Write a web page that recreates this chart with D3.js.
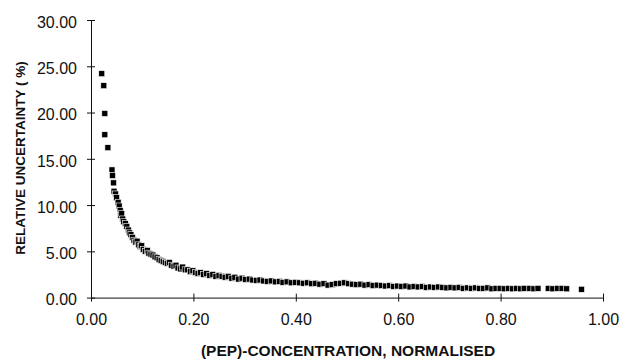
<!DOCTYPE html>
<html>
<head>
<meta charset="utf-8">
<script src="https://cdn.jsdelivr.net/npm/d3@7"></script>
<style>
  body { margin: 0; background: #fff; }
  .axis text { font-family: "Liberation Sans", Arial, sans-serif; font-size: 16px; fill: #111; }
  .axis path, .axis line { stroke: #111; stroke-width: 1; }
  .title { font-family: "Liberation Sans", Arial, sans-serif; font-weight: bold; fill: #111; }
</style>
</head>
<body>
<div id="chart"></div>
<script>
// normalised PEP concentration (x) and relative uncertainty in % (y)
const concentration = [
  0.021, 0.025, 0.027, 0.027, 0.033, 0.041, 0.042, 0.044, 0.045, 0.048,
  0.050, 0.053, 0.055, 0.057, 0.058, 0.060, 0.062, 0.064, 0.067, 0.070,
  0.073, 0.075, 0.078, 0.081, 0.084, 0.087, 0.090, 0.093, 0.096, 0.099,
  0.102, 0.106, 0.110, 0.113, 0.117, 0.121, 0.125, 0.129, 0.133, 0.137,
  0.141, 0.145, 0.149, 0.153, 0.157, 0.162, 0.166, 0.170, 0.175, 0.179,
  0.184, 0.189, 0.194, 0.199, 0.204, 0.209, 0.214, 0.220, 0.226, 0.232,
  0.238, 0.244, 0.250, 0.256, 0.262, 0.268, 0.275, 0.281, 0.288, 0.295,
  0.302, 0.309, 0.316, 0.323, 0.330, 0.337, 0.345, 0.352, 0.360, 0.368,
  0.375, 0.383, 0.391, 0.399, 0.407, 0.415, 0.423, 0.431, 0.439, 0.447,
  0.455, 0.463, 0.471, 0.479, 0.487, 0.495, 0.503, 0.511, 0.519, 0.527,
  0.535, 0.543, 0.551, 0.559, 0.567, 0.575, 0.583, 0.591, 0.599, 0.607,
  0.615, 0.623, 0.631, 0.639, 0.647, 0.655, 0.663, 0.671, 0.679, 0.687,
  0.695, 0.703, 0.711, 0.719, 0.727, 0.735, 0.743, 0.751, 0.759, 0.767,
  0.775, 0.783, 0.791, 0.799, 0.807, 0.815, 0.823, 0.831, 0.839, 0.846,
  0.857, 0.865, 0.873, 0.893, 0.902, 0.911, 0.920, 0.929, 0.958
];
const uncertainty = [
  24.2, 22.9, 19.9, 17.6, 16.2, 13.8, 13.2, 12.4, 11.5, 11.2,
  10.8, 10.3, 9.9, 9.4, 8.9, 9.1, 8.5, 8.2, 8.0, 7.7,
  7.3, 7.0, 6.8, 6.5, 6.2, 6.0, 6.1, 5.7, 5.5, 5.6,
  5.2, 5.0, 5.1, 4.8, 4.7, 4.6, 4.4, 4.3, 4.1, 4.0,
  3.9, 3.8, 3.7, 3.8, 3.5, 3.4, 3.5, 3.2, 3.1, 3.3,
  3.0, 3.0, 2.8, 2.9, 2.7, 2.6, 2.7, 2.5, 2.6, 2.4,
  2.5, 2.3, 2.4, 2.3, 2.2, 2.3, 2.1, 2.2, 2.0, 2.1,
  1.95, 2.0, 1.9, 1.85, 1.9, 1.8, 1.75, 1.8, 1.7, 1.75,
  1.65, 1.7, 1.6, 1.65, 1.6, 1.55, 1.6, 1.5, 1.55, 1.45,
  1.5, 1.35, 1.4, 1.5, 1.55, 1.6, 1.5, 1.45, 1.4, 1.45,
  1.35, 1.4, 1.3, 1.35, 1.3, 1.25, 1.3, 1.2, 1.25, 1.2,
  1.25, 1.15, 1.2, 1.15, 1.2, 1.1, 1.15, 1.1, 1.15, 1.1,
  1.05, 1.1, 1.05, 1.1, 1.0, 1.05, 1.0, 1.05, 1.0, 1.0,
  1.05, 0.95, 1.0, 1.0, 0.95, 1.0, 0.95, 1.0, 0.95, 1.0,
  1.0, 0.95, 1.0, 1.0, 0.95, 1.0, 1.0, 0.95, 0.9
];
const xTicks = [0, 0.2, 0.4, 0.6, 0.8, 1.0];
const yTicks = [0, 5, 10, 15, 20, 25, 30];

const width = 621, height = 360;
const margin = {top: 20, right: 18, bottom: 62, left: 91};

const svg = d3.select('#chart').append('svg')
  .attr('width', width)
  .attr('height', height);

const xScale = d3.scaleLinear().domain([0, 1]).range([margin.left, width - margin.right]);
const yScale = d3.scaleLinear().domain([0, 30]).range([height - margin.bottom - 0.4, margin.top]);

// y axis, ticks crossing the line
const yAxis = svg.append('g')
  .attr('class', 'axis y')
  .attr('transform', 'translate(' + xScale(0) + ',0)')
  .call(d3.axisLeft(yScale).tickValues(yTicks).tickSizeInner(4).tickSizeOuter(0)
    .tickPadding(10).tickFormat(d3.format('.2f')));
yAxis.selectAll('.tick line').attr('x1', 4);
yAxis.selectAll('.tick text').attr('dy', '0.45em');

// x axis
const xAxis = svg.append('g')
  .attr('class', 'axis x')
  .attr('transform', 'translate(0,' + yScale(0) + ')')
  .call(d3.axisBottom(xScale).tickValues(xTicks).tickSizeInner(4).tickSizeOuter(0)
    .tickPadding(12).tickFormat(d3.format('.2f')));
xAxis.selectAll('.tick line').attr('y1', -4);

// markers
const pts = concentration.map((c, i) => ({x: c, y: uncertainty[i]}));
const s = 6;
svg.append('g').selectAll('rect')
  .data(pts)
  .enter()
  .append('rect')
  .attr('x', d => xScale(d.x) - s / 2)
  .attr('y', d => yScale(d.y) - s / 2)
  .attr('width', s)
  .attr('height', s)
  .attr('fill', '#000')
  .attr('stroke', '#fff')
  .attr('stroke-width', 0.6);

// axis titles
svg.append('text')
  .attr('class', 'title')
  .attr('text-anchor', 'middle')
  .style('font-size', '13.5px')
  .attr('transform', 'translate(25,' + 158 + ') rotate(-90)')
  .text('RELATIVE UNCERTAINTY ( %)');

svg.append('text')
  .attr('class', 'title')
  .attr('text-anchor', 'middle')
  .style('font-size', '15.5px')
  .attr('x', 348)
  .attr('y', 356)
  .text('(PEP)-CONCENTRATION, NORMALISED');
</script>
</body>
</html>
